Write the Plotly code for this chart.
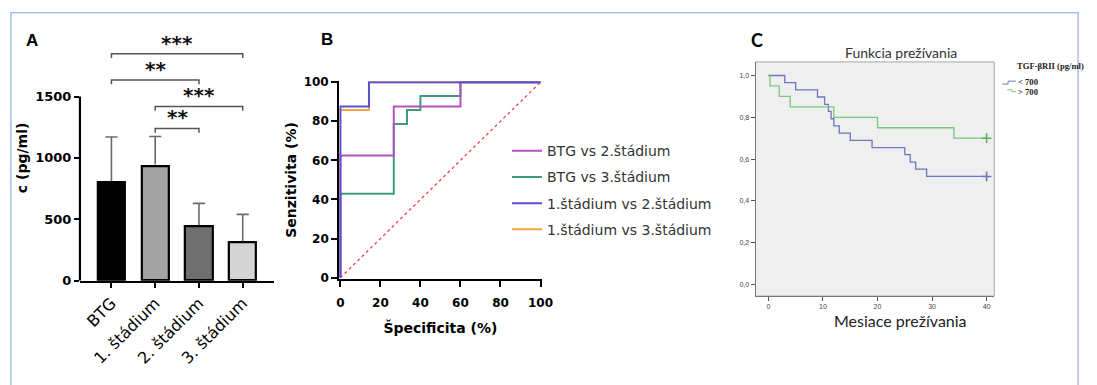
import plotly.graph_objects as go

W, H = 1097, 385


def px(x):
    return x / W


def py(y):
    return 1 - y / H


# ---------------- Panel A data: TGF-βRII concentration per group ----------------
groups = ["BTG", "1. štádium", "2. štádium", "3. štádium"]
conc_mean = [800, 935, 440, 310]
conc_sd = [370, 240, 190, 230]
bar_colors = ["#000000", "#a3a3a3", "#6f6f6f", "#d4d4d4"]

# pairwise comparisons: (group a, group b, significance label)
comparisons = [
    ("BTG", "3. štádium", "***"),
    ("BTG", "2. štádium", "**"),
    ("1. štádium", "3. štádium", "***"),
    ("1. štádium", "2. štádium", "**"),
]

# ---------------- Panel B data: ROC curves (specificity %, sensitivity %) ----------------
roc_btg_2_spec = [0, 0, 26.7, 26.7, 60, 60, 100]
roc_btg_2_sens = [0, 62.5, 62.5, 87.5, 87.5, 100, 100]
roc_btg_3_spec = [0, 0, 26.7, 26.7, 33.3, 33.3, 40, 40, 60, 60, 100]
roc_btg_3_sens = [0, 42.9, 42.9, 78.6, 78.6, 85.7, 85.7, 92.9, 92.9, 100, 100]
roc_s1_2_spec = [0, 0, 14.3, 14.3, 100]
roc_s1_2_sens = [0, 87.5, 87.5, 100, 100]
roc_s1_3_spec = [0, 0, 14.3, 14.3, 100]
roc_s1_3_sens = [0, 85.7, 85.7, 100, 100]
ref_line = [0, 100]

# ---------------- Panel C data: Kaplan-Meier survival ----------------
km_low_t = [0, 3, 5, 9, 10.3, 11, 11.5, 12, 13, 15, 19, 25, 26, 27, 29, 40]
km_low_s = [1.0, 0.966, 0.931, 0.897, 0.862, 0.828, 0.793, 0.759, 0.724,
            0.690, 0.655, 0.621, 0.586, 0.552, 0.517, 0.517]
km_high_t = [0, 0.3, 2, 4, 12, 20, 34, 40]
km_high_s = [1.0, 0.95, 0.90, 0.85, 0.80, 0.75, 0.70, 0.70]

fig = go.Figure()

# ================= Panel A =================
gx = list(range(len(groups)))
fig.add_trace(go.Bar(
    x=gx, y=conc_mean, width=0.62,
    marker=dict(color=bar_colors, line=dict(color="#000000", width=2.2)),
    xaxis="x", yaxis="y", showlegend=False,
))

# upward-only error bars (mean to mean + SD, with a cap)
cap = 0.14
err_x, err_y = [], []
for i, (m, s) in enumerate(zip(conc_mean, conc_sd)):
    err_x += [i, i, None, i - cap, i + cap, None]
    err_y += [m + 12, m + s, None, m + s, m + s, None]
fig.add_trace(go.Scatter(
    x=err_x, y=err_y, mode="lines",
    line=dict(color="#6a6a6a", width=1.6),
    xaxis="x", yaxis="y", showlegend=False, hoverinfo="skip",
))

levels = [1850, 1635, 1420, 1240]
for (ga, gb, lab), h in zip(comparisons, levels):
    a, b = groups.index(ga), groups.index(gb)
    fig.add_trace(go.Scatter(
        x=[a, a, b, b], y=[h - 35, h, h, h - 35], mode="lines",
        line=dict(color="#555555", width=1.5),
        xaxis="x", yaxis="y", showlegend=False, hoverinfo="skip",
    ))
    fig.add_annotation(
        x=(a + b) / 2, y=h, xref="x", yref="y", text=lab, showarrow=False,
        xanchor="center", yanchor="bottom", yshift=-3,
        font=dict(family="DejaVu Sans", size=20, color="#111111", weight="bold"),
    )

# ================= Panel B =================
fig.add_trace(go.Scatter(
    x=ref_line, y=ref_line, mode="lines",
    line=dict(color="#e8424a", width=1.3, dash="dot"),
    xaxis="x2", yaxis="y2", showlegend=False, hoverinfo="skip",
))
roc_specs = [
    ("1.štádium vs 3.štádium", roc_s1_3_spec, roc_s1_3_sens, "#f6a53a", 4),
    ("BTG vs 3.štádium", roc_btg_3_spec, roc_btg_3_sens, "#3f9b78", 2),
    ("BTG vs 2.štádium", roc_btg_2_spec, roc_btg_2_sens, "#b451c2", 1),
    ("1.štádium vs 2.štádium", roc_s1_2_spec, roc_s1_2_sens, "#5a4fd4", 3),
]
for name, xs, ys, col, rank in roc_specs:
    fig.add_trace(go.Scatter(
        x=xs, y=ys, mode="lines", name=name, legendrank=rank,
        legendgroup=name,
        line=dict(color=col, width=2),
        xaxis="x2", yaxis="y2",
    ))

# ================= Panel C =================
fig.add_trace(go.Scatter(
    x=km_low_t, y=km_low_s, mode="lines", line_shape="hv",
    line=dict(color="#6b77bf", width=1.3),
    xaxis="x3", yaxis="y3", showlegend=False,
))
fig.add_trace(go.Scatter(
    x=km_high_t, y=km_high_s, mode="lines", line_shape="hv",
    line=dict(color="#7cc67c", width=1.3),
    xaxis="x3", yaxis="y3", showlegend=False,
))
fig.add_trace(go.Scatter(
    x=[km_low_t[-1], km_high_t[-1]], y=[km_low_s[-1], km_high_s[-1]],
    mode="markers",
    marker=dict(symbol="cross-thin", size=7,
                line=dict(color=["#6b77bf", "#5bb35b"], width=1.6)),
    xaxis="x3", yaxis="y3", showlegend=False,
))

# ================= Layout =================
a_unit = 191 / 1500  # px per pg/ml
a_top = 285 - 2000 * a_unit

b_font = "DejaVu Sans"

fig.update_layout(
    width=W, height=H,
    margin=dict(l=0, r=0, t=0, b=0),
    paper_bgcolor="white", plot_bgcolor="white",
    bargap=0,
    xaxis=dict(
        domain=[px(78), px(275)], range=[-0.72, 3.72],
        tickvals=gx, ticktext=groups, tickangle=-45,
        ticks="outside", ticklen=5, tickwidth=2, tickcolor="black",
        showline=True, linecolor="black", linewidth=2.2,
        showgrid=False, zeroline=False,
        tickfont=dict(family=b_font, size=16, color="black"),
        anchor="y",
    ),
    yaxis=dict(
        domain=[py(285), py(a_top)], range=[0, 2000],
        tickvals=[0, 500, 1000, 1500],
        ticks="outside", ticklen=5, tickwidth=2, tickcolor="black",
        showline=False, showgrid=False, zeroline=False,
        tickfont=dict(family=b_font, size=13, color="black", weight="bold"),
        title=dict(text="c (pg/ml)", standoff=4,
                   font=dict(family=b_font, size=14, color="black", weight="bold")),
        anchor="x",
    ),
    xaxis2=dict(
        domain=[px(341), px(546)], range=[-0.5, 100.5],
        tickvals=[0, 20, 40, 60, 80, 100],
        ticks="outside", ticklen=6, tickwidth=2, tickcolor="black",
        showline=True, linecolor="black", linewidth=2.4,
        showgrid=False, zeroline=False, layer="below traces",
        ticklabelstandoff=6,
        tickfont=dict(family=b_font, size=12, color="black", weight="bold"),
        title=dict(text="Špecificita (%)", standoff=14,
                   font=dict(family=b_font, size=14, color="black", weight="bold")),
        anchor="y2",
    ),
    yaxis2=dict(
        domain=[py(283), py(78)], range=[-0.5, 100.5],
        tickvals=[0, 20, 40, 60, 80, 100],
        ticks="outside", ticklen=6, tickwidth=2, tickcolor="black",
        showline=True, linecolor="black", linewidth=2.4,
        showgrid=False, zeroline=False, layer="below traces",
        tickfont=dict(family=b_font, size=12, color="black", weight="bold"),
        title=dict(text="Senzitivita (%)", standoff=4,
                   font=dict(family=b_font, size=14, color="black", weight="bold")),
        anchor="x2",
    ),
    xaxis3=dict(
        domain=[px(763), px(1005)], range=[-2.35, 41.4],
        tickvals=[0, 10, 20, 30, 40],
        ticks="outside", ticklen=4, tickwidth=1, tickcolor="#555555",
        showline=True, linecolor="#777777", linewidth=1,
        showgrid=False, zeroline=False,
        tickfont=dict(family="Liberation Sans", size=7, color="#444444"),
        anchor="y3",
    ),
    yaxis3=dict(
        domain=[py(301), py(58)], range=[-0.055, 1.065],
        tickvals=[0, 0.2, 0.4, 0.6, 0.8, 1.0],
        ticktext=["0,0", "0,2", "0,4", "0,6", "0,8", "1,0"],
        ticks="outside", ticklen=4, tickwidth=1, tickcolor="#555555",
        showline=True, linecolor="#777777", linewidth=1,
        showgrid=False, zeroline=False,
        tickfont=dict(family="Liberation Sans", size=7, color="#444444"),
        anchor="x3",
    ),
    legend=dict(
        x=px(511), y=py(134), xanchor="left", yanchor="top",
        traceorder="grouped", tracegroupgap=5,
        bgcolor="rgba(0,0,0,0)",
        font=dict(family=b_font, size=14, color="#333333"),
    ),
)

# Panel A vertical axis line, 0-1500 only
fig.add_shape(type="line", xref="x domain", yref="y", x0=0, x1=0, y0=0, y1=1500,
              line=dict(color="black", width=2.2))

# Panel C shaded plotting area
fig.add_shape(type="rect", xref="x3 domain", yref="y3 domain",
              x0=0, x1=1, y0=0, y1=1, layer="below",
              fillcolor="#efefef", line=dict(color="#a8a8a8", width=1))


def note(text, x, y, size, family, color="#222222", xanchor="center", weight="normal"):
    fig.add_annotation(x=px(x), y=py(y), xref="paper", yref="paper",
                       xanchor=xanchor, yanchor="middle", text=text, showarrow=False,
                       font=dict(family=family, size=size, color=color, weight=weight))


# Panel C title and axis title
note("Funkcia prežívania", 910, 48, 14, "Lato", "#333333")
note("Mesiace prežívania", 910, 326, 16, "Lato", "#222222")

# Panel C legend
serif = "Liberation Serif"
note("TGF-βRII (pg/ml)", 1026, 62, 8.6, serif, xanchor="left", weight="bold")
note("< 700", 1027, 79, 8.6, serif, xanchor="left", weight="bold")
note("> 700", 1027, 89, 8.6, serif, xanchor="left", weight="bold")
fig.add_shape(type="path", xref="paper", yref="paper",
              path=f"M{px(1013)},{py(81)} L{px(1019)},{py(81)} L{px(1019)},{py(78)} L{px(1027)},{py(78)}",
              line=dict(color="#6b77bf", width=1))
fig.add_shape(type="path", xref="paper", yref="paper",
              path=f"M{px(1018)},{py(87)} L{px(1023)},{py(87)} L{px(1023)},{py(89)} L{px(1027)},{py(89)}",
              line=dict(color="#7cc67c", width=1))

# Panel letters
note("A", 29, 36, 17, "Liberation Sans", "black", weight="bold")
note("B", 328, 35, 17, "Liberation Sans", "black", weight="bold")
note("C", 764, 35, 18, "Lato", "black", weight="bold")

# Outer frame
fig.add_shape(type="rect", xref="paper", yref="paper",
              x0=px(8), x1=px(1090), y0=py(7), y1=py(420),
              line=dict(color="#a9c0ea", width=1.5))

fig.write_html("out.html")
